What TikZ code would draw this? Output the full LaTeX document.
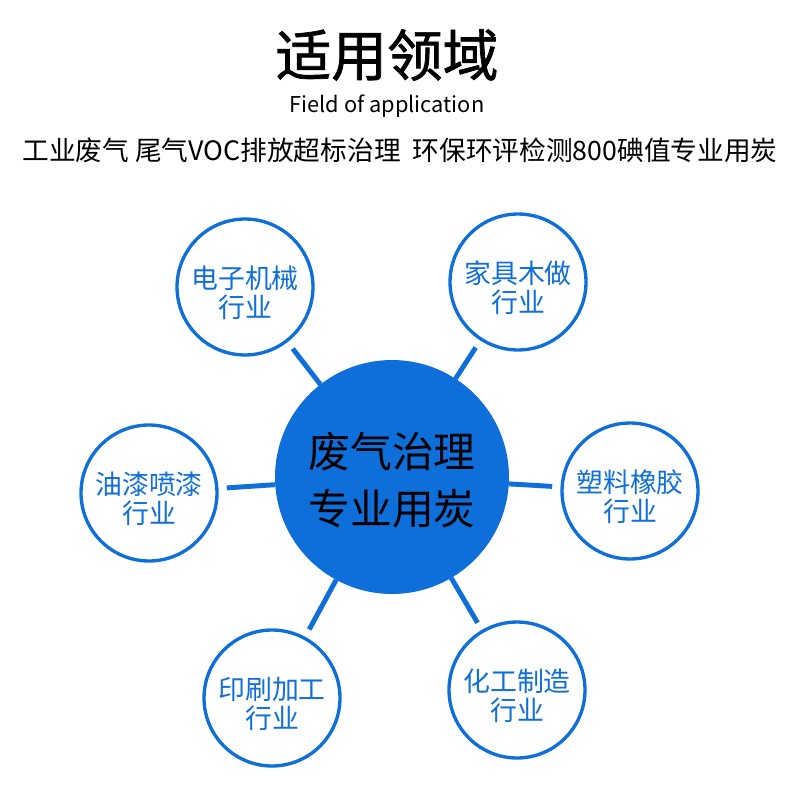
\documentclass[tikz,border=0pt]{standalone}
\usepackage{fontspec}
\setmainfont{Noto Sans CJK SC}
\newfontfamily\cjk{Noto Sans CJK SC}
\newfontfamily\cjkhead[FakeBold=1.3]{Noto Sans CJK SC}
\definecolor{appblue}{RGB}{14,111,219}

\tikzset{
  hub/.style={circle, fill=appblue, minimum size=4.68cm, inner sep=0pt, outer sep=0pt},
  hubtext/.style={align=center, text=black, font=\cjk\fontsize{23.8}{32.3}\selectfont},
  field/.style={circle, draw=appblue, line width=1.9pt, minimum size=2.72cm, inner sep=0pt, outer sep=0pt},
  fieldtext/.style={align=center, text=appblue, font=\cjk\fontsize{15.3}{16.4}\selectfont},
  spoke/.style={appblue, line width=2.8pt, shorten >=0.2cm}
}

\begin{document}
\begin{tikzpicture}[x=0.02cm, y=-0.02cm]

	\useasboundingbox[fill=white] (0,0) rectangle (800,800);

% titles
\node (title) at (387,55) {\cjkhead\fontsize{31.7}{34}\selectfont 适用领域};
\node (entitle) at (387,106) {\cjk\fontsize{12.4}{14}\selectfont Field of application};
\node (slogan) at (400,150) {\cjk\fontsize{15.2}{17}\selectfont 工业废气 尾气VOC排放超标治理\ \ 环保环评检测800碘值专业用炭};

% center
\node[hub] (hub) at (392,477) {};
\node[hubtext] (hub-t) at ([yshift=-0.07cm]hub) {废气治理\\专业用炭};

% fields
		\foreach \f/\p/\t in {elec/{245,287}/电子机械, wood/{518,282}/家具木做,
			paint/{149,493}/油漆喷漆, plast/{630,491}/塑料橡胶,
			print/{272,698}/印刷加工, chem/{517,690}/化工制造} {
			\node[field] (\f) at (\p) {};
			\node[fieldtext] (\f-t) at ([yshift=-0.12cm]\f) {\t\\行业};
			\draw[spoke] (hub) -- (\f);
		}
	\end{tikzpicture}
\end{document}
